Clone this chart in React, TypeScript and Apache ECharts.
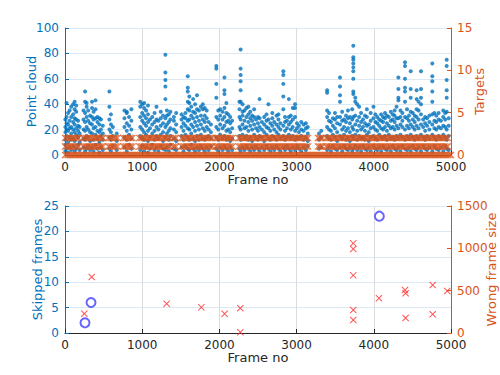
import React, { useEffect, useRef } from "react";
import * as echarts from "echarts";

// ---------- Top plot: point cloud size per frame (frame, values observed at that frame) ----------
const pointCloud: [number, number[]][] = [
  [5, [3, 8, 12, 18, 22, 28]], [20, [5, 15, 20, 25, 30, 41]], [40, [2, 10, 19, 24, 33]],
  [60, [6, 14, 21, 27, 35]], [80, [4, 12, 17, 22, 30, 38]], [105, [7, 13, 20, 26, 32, 40]],
  [125, [3, 11, 18, 24, 29, 36, 42]], [145, [5, 16, 21, 28, 34, 39]], [170, [8, 14, 19, 23, 27]],
  [190, [4, 10, 17, 22]],
  [240, [6, 13, 20, 28, 35]], [260, [3, 12, 19, 26, 33, 42, 50]], [280, [5, 15, 22, 30, 38, 41]],
  [300, [7, 14, 20, 27, 35]], [325, [4, 11, 18, 25, 31]], [350, [6, 17, 24, 30, 37, 42]],
  [370, [3, 12, 21, 28, 34]], [395, [8, 16, 22, 29, 36, 43]], [420, [5, 13, 19, 26, 30]],
  [445, [2, 10, 18, 24, 29]], [465, [6, 15, 20, 28]], [490, [4, 12, 17, 23]],
  [575, [5, 14, 20, 28, 38, 50]], [595, [3, 12, 18, 24, 32]], [620, [7, 15, 22]], [670, [4, 11, 17]],
  [770, [6, 14, 22, 29, 35]], [800, [3, 12, 19, 25, 33, 34]], [830, [8, 16, 23, 30]], [860, [5, 13, 20, 27, 36]],
  [975, [4, 15, 22, 30, 38, 42]], [1000, [7, 13, 20, 27, 33, 40]], [1025, [3, 12, 18, 25, 31, 37, 41]],
  [1050, [6, 16, 23, 29, 35]], [1075, [2, 11, 19, 26, 32, 39]], [1100, [5, 14, 21, 28]],
  [1130, [8, 17, 24, 30]], [1160, [4, 12, 19, 26, 33]], [1185, [6, 15, 22, 28, 38]],
  [1210, [3, 13, 20, 27]], [1240, [7, 16, 23, 29, 34]], [1270, [5, 11, 18, 25, 31]],
  [1300, [4, 14, 22, 29, 44, 54, 59, 65, 79]], [1320, [6, 17, 24, 31, 35]], [1345, [3, 12, 19, 26, 32]],
  [1365, [8, 15, 21, 28, 34]], [1410, [5, 13, 20, 27, 30]], [1440, [4, 11, 18, 24, 33]],
  [1510, [6, 15, 22, 28, 32]], [1535, [3, 12, 19, 25, 30]], [1560, [7, 16, 23, 29, 33]],
  [1590, [5, 14, 21, 27, 36, 42, 50, 53, 62]], [1610, [4, 12, 20, 28, 35, 41, 46]],
  [1635, [8, 17, 24, 31, 38]], [1660, [5, 13, 22, 29, 34, 44]], [1685, [3, 11, 19, 26, 33, 40]],
  [1710, [6, 15, 23, 30, 36, 47]], [1735, [4, 12, 20, 27, 35]], [1760, [7, 16, 24, 31, 38]],
  [1785, [5, 13, 21, 28, 36, 40]], [1810, [3, 12, 19, 26, 31, 37]], [1835, [6, 14, 22, 29, 35]],
  [1860, [4, 15, 20, 26]], [1890, [7, 13, 18, 24]],
  [1960, [5, 14, 22, 30, 45, 56, 68, 70]], [1985, [3, 12, 20, 28, 35]], [2010, [6, 16, 24, 31, 36]],
  [2040, [4, 13, 21, 28, 34]], [2065, [7, 15, 23, 30, 37, 48, 51, 61]], [2090, [5, 12, 19, 26, 33, 41]],
  [2115, [3, 14, 20, 27, 32]], [2140, [6, 11, 18, 25, 30]], [2165, [4, 13, 21, 27]],
  [2260, [5, 15, 22, 30, 36, 42]], [2275, [3, 12, 20, 28, 42, 51, 58, 63, 68, 83]],
  [2300, [6, 16, 24, 31, 34, 40]], [2325, [4, 13, 21, 27, 35]], [2350, [7, 15, 22, 30, 37]],
  [2375, [5, 12, 19, 26, 32, 38]], [2400, [3, 14, 23, 29, 34]], [2425, [6, 11, 20, 27, 31]],
  [2450, [4, 16, 24, 30, 36]], [2475, [7, 13, 21, 28]], [2500, [5, 12, 19, 25, 30]],
  [2520, [3, 15, 22, 29, 44]], [2550, [6, 14, 20, 26]], [2580, [4, 11, 18, 24, 30]],
  [2610, [7, 16, 22, 27, 32]], [2635, [5, 13, 21, 28, 40]], [2660, [3, 12, 19, 25]],
  [2685, [6, 15, 23, 29, 33]], [2710, [4, 14, 20, 26]], [2740, [7, 12, 18, 24, 31]],
  [2765, [5, 16, 22, 28, 32]], [2790, [3, 13, 20, 25]], [2828, [6, 15, 23, 36, 46, 56, 63, 66]],
  [2850, [4, 12, 19, 26, 30]], [2875, [7, 14, 21, 27]], [2900, [5, 16, 24, 30, 44]],
  [2925, [3, 13, 20, 26, 31]], [2950, [6, 15, 22, 28, 37]], [2980, [4, 12, 19, 30, 37, 40]],
  [3005, [7, 14, 21, 25]], [3030, [5, 13, 18, 23]], [3060, [3, 15, 20, 26]],
  [3090, [6, 12, 19, 24]], [3120, [4, 14, 21, 25]], [3145, [7, 11, 17, 22]],
  [3290, [5, 12, 17]], [3320, [6, 14, 19]],
  [3395, [4, 15, 22, 30, 35, 49, 51]], [3420, [6, 13, 20, 27, 33]], [3445, [3, 12, 19, 26]],
  [3470, [7, 16, 23, 29]], [3497, [5, 14, 21, 28, 33]], [3525, [4, 11, 18, 25, 30]],
  [3562, [6, 15, 24, 30, 42, 47, 54, 61]], [3590, [3, 13, 20, 27, 34]], [3615, [7, 16, 22, 28]],
  [3640, [5, 12, 19, 26, 31]], [3665, [4, 14, 21, 29, 35]], [3690, [6, 11, 18, 25, 30]],
  [3720, [3, 15, 22, 28, 36]], [3735, [5, 13, 20, 30, 48, 50, 60, 66, 69, 72, 75, 77, 86]],
  [3760, [7, 16, 24, 31, 42, 45]], [3785, [4, 12, 19, 27, 40]], [3810, [6, 15, 23, 30, 38]],
  [3835, [3, 13, 20, 26, 33]], [3860, [7, 14, 22, 28]], [3885, [5, 12, 19, 25, 31]],
  [3910, [4, 16, 23, 30, 36]], [3935, [6, 11, 18, 24]], [3960, [3, 14, 21, 27, 33]],
  [3995, [7, 15, 22, 29, 38]], [4020, [5, 13, 20, 26, 32]], [4045, [4, 12, 19, 25, 30]],
  [4070, [6, 16, 23, 28]], [4095, [3, 14, 21, 27, 32]], [4120, [7, 13, 20, 26, 30]],
  [4145, [5, 15, 22, 29, 33]], [4170, [4, 12, 19, 25, 31]], [4195, [6, 16, 23, 30]],
  [4220, [3, 13, 21, 27, 34]], [4245, [7, 14, 22, 28, 32]], [4270, [5, 12, 20, 26, 31, 35]],
  [4295, [4, 15, 23, 29, 38]], [4318, [6, 13, 21, 29, 43, 45, 52, 61]], [4345, [3, 16, 24, 30, 35]],
  [4370, [7, 14, 22, 27, 33]], [4404, [5, 12, 20, 30, 42, 50, 53, 60, 70, 73]],
  [4430, [4, 15, 23, 29, 36]], [4455, [6, 13, 21, 27, 31]], [4478, [3, 16, 24, 34, 45, 52, 66]],
  [4505, [7, 14, 22, 28, 33]], [4530, [5, 12, 20, 26, 31]], [4555, [4, 15, 23, 30, 36, 44, 51]],
  [4580, [6, 13, 21, 28, 35, 42]], [4611, [3, 16, 24, 32, 40, 45, 52, 66]], [4640, [7, 14, 22, 28]],
  [4665, [5, 12, 19, 25, 30]], [4690, [4, 15, 23, 29]], [4720, [6, 13, 20, 26, 31]],
  [4758, [3, 16, 24, 32, 42, 50, 58, 62, 72]], [4785, [7, 14, 21, 27, 33]], [4810, [5, 12, 20, 26, 31]],
  [4840, [4, 15, 22, 28, 33]], [4870, [6, 13, 21, 27]], [4900, [3, 16, 23, 30, 35]],
  [4925, [7, 14, 22, 28, 33]], [4944, [5, 12, 20, 34, 45, 51, 59, 70, 75]], [4970, [4, 15, 23, 29]],
];

// Target counts, run-length encoded: [firstFrame, lastFrame] where the count occurs
const targetRuns0: [number, number][] = [[0, 5000]];
const targetRuns1: [number, number][] = [
  [0, 195], [234, 494], [560, 690], [754, 885], [962, 1365], [1400, 1450], [1508, 1911],
  [1950, 2184], [2249, 3159], [3276, 3341], [3380, 4979],
];
const targetRuns2: [number, number][] = [
  [0, 195], [234, 494], [560, 690], [754, 885], [962, 1365], [1400, 1450], [1508, 1911],
  [1950, 2184], [2249, 3159], [3276, 3341], [3380, 4979],
];

// ---------- Bottom plot ----------
const skippedFrames: [number, number][] = [[259, 2], [337, 6], [4072, 23]];
const wrongFrameSize: [number, number][] = [
  [250, 228], [346, 661], [1317, 346], [1766, 303], [2068, 228], [2271, 292], [2271, 8],
  [3734, 1059], [3734, 992], [3734, 681], [3734, 272], [3734, 154], [4067, 410],
  [4404, 508], [4412, 469], [4412, 177], [4763, 567], [4763, 221], [4952, 496],
];

const BLUE = "#0072BD";
const ORANGE = "#D95319";
const DARK = "#262626";
const FONT = "DejaVu Sans";
const XSYM = "path://M0,1L1,0L5,4L9,0L10,1L6,5L10,9L9,10L5,6L1,10L0,9L4,5Z";

function expandRuns(runs: [number, number][], value: number): number[][] {
  const out: number[][] = [];
  for (const [a, b] of runs) {
    for (let f = a; f <= b; f += 20) out.push([f, value]);
  }
  return out;
}

const plain = (v: number) => String(v);

export default function App() {
  const ref = useRef<HTMLDivElement>(null);
  useEffect(() => {
    if (!ref.current) return;
    const chart = echarts.init(ref.current, null, { renderer: "svg" });
    const cloudData: number[][] = [];
    pointCloud.forEach(([f, vals]) => vals.forEach((v) => cloudData.push([f, v])));
    const targetData = [
      ...expandRuns(targetRuns0, 0),
      ...expandRuns(targetRuns1, 1),
      ...expandRuns(targetRuns2, 2),
    ];

    const xAxisBase = (gridIndex: number) => ({
      type: "value" as const,
      gridIndex,
      min: 0,
      max: 5000,
      interval: 1000,
      name: "Frame no",
      nameLocation: "middle" as const,
      nameGap: 18,
      nameMoveOverlap: false,
      nameTextStyle: { color: DARK, fontSize: 13, fontFamily: FONT },
      axisLine: { show: true, lineStyle: { color: DARK, width: 1 } },
      axisTick: { show: true, inside: true, length: 4, lineStyle: { color: DARK } },
      axisLabel: { color: DARK, fontSize: 12, fontFamily: FONT, margin: 6, formatter: plain },
      splitLine: { show: true, lineStyle: { color: "#dcdcdc", width: 1 } },
    });

    const yAxisBase = (
      gridIndex: number, pos: "left" | "right", max: number, interval: number,
      name: string, color: string, gap: number, split: boolean
    ) => ({
      type: "value" as const,
      gridIndex,
      position: pos,
      min: 0,
      max,
      interval,
      name,
      nameLocation: "middle" as const,
      nameRotate: 90,
      nameGap: gap,
      nameMoveOverlap: false,
      nameTextStyle: { color, fontSize: 13, fontFamily: FONT },
      axisLine: { show: true, lineStyle: { color, width: 1 } },
      axisTick: { show: true, inside: true, length: 4, lineStyle: { color } },
      axisLabel: { color, fontSize: 12, fontFamily: FONT, margin: 6, formatter: plain },
      splitLine: { show: split, lineStyle: { color: "#dde8f2", width: 1 } },
    });

    chart.setOption({
      animation: false,
      backgroundColor: "#ffffff",
      grid: [
        { left: 65, right: 49, top: 28, height: 127, outerBoundsMode: "none" },
        { left: 65, right: 49, top: 206, height: 127, outerBoundsMode: "none" },
      ],
      xAxis: [xAxisBase(0), xAxisBase(1)],
      yAxis: [
        yAxisBase(0, "left", 100, 20, "Point cloud", BLUE, 27, true),
        yAxisBase(0, "right", 15, 5, "Targets", ORANGE, 22, false),
        yAxisBase(1, "left", 25, 5, "Skipped frames", BLUE, 21, true),
        yAxisBase(1, "right", 1500, 500, "Wrong frame size", ORANGE, 34, false),
      ],
      series: [
        {
          type: "scatter", xAxisIndex: 0, yAxisIndex: 0, data: cloudData,
          symbol: "circle", symbolSize: 4, itemStyle: { color: BLUE }, z: 2,
        },
        {
          type: "scatter", xAxisIndex: 0, yAxisIndex: 1, data: targetData,
          symbol: XSYM, symbolSize: 7, itemStyle: { color: ORANGE }, z: 3,
        },
        {
          type: "scatter", xAxisIndex: 1, yAxisIndex: 2, data: skippedFrames,
          symbol: "emptyCircle", symbolSize: 9,
          itemStyle: { color: "#4040ff", borderColor: "#4040ff", borderWidth: 1 }, z: 3,
        },
        {
          type: "scatter", xAxisIndex: 1, yAxisIndex: 3, data: wrongFrameSize,
          symbol: XSYM, symbolSize: 7, itemStyle: { color: "#ff2a2a" }, z: 3,
        },
      ],
    });
    return () => chart.dispose();
  }, []);
  return (
    <div
      ref={ref}
      style={{ position: "fixed", left: 0, top: 0, width: 500, height: 375, background: "#fff" }}
    />
  );
}
